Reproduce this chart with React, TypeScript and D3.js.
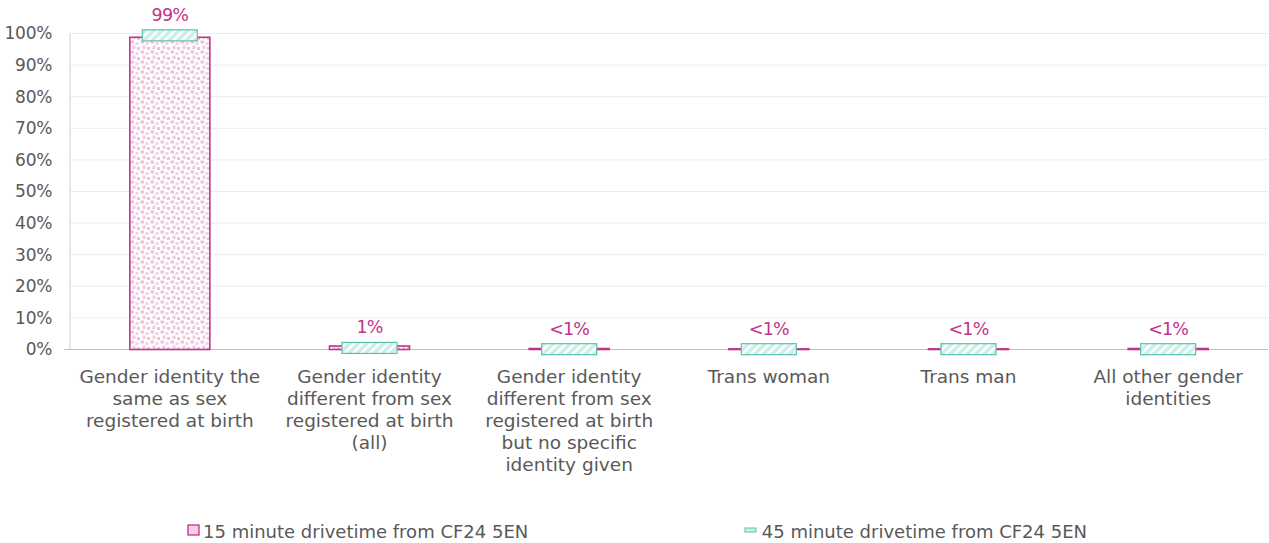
import React from "react";
import * as d3 from "d3";

const categories: string[][] = [
  ["Gender identity the", "same as sex", "registered at birth"],
  ["Gender identity", "different from sex", "registered at birth", "(all)"],
  ["Gender identity", "different from sex", "registered at birth", "but no specific", "identity given"],
  ["Trans woman"],
  ["Trans man"],
  ["All other gender", "identities"],
];
const series15 = [0.988, 0.011, 0.003, 0.002, 0.002, 0.003];
const series45 = [0.994, 0.005, 0.001, 0.001, 0.001, 0.001];
const dataLabels = ["99%", "1%", "<1%", "<1%", "<1%", "<1%"];
const yTicks = [0, 0.1, 0.2, 0.3, 0.4, 0.5, 0.6, 0.7, 0.8, 0.9, 1];
const legendLabels = ["15 minute drivetime from CF24 5EN", "45 minute drivetime from CF24 5EN"];

const W = 1269;
const H = 543;
const FONT = "'DejaVu Sans', sans-serif";
const TEXT = "#595959";
const PINK = "#c0338a";
const TEAL = "#5cbfae";

export default function App() {
  const x = d3.scaleBand<number>().domain(categories.map((_, i) => i)).range([70, 1268]).padding(0);
  const y = d3.scaleLinear().domain([0, 1]).range([349.5, 33.5]);
  const barW = 80;
  const mW = 55;
  const mH = 11;
  const fmt = d3.format(".0%");

  return (
    <svg width={W} height={H} style={{ position: "absolute", left: 0, top: 0 }} fontFamily={FONT}>
      <defs>
        <pattern id="dots" width="10" height="10" patternUnits="userSpaceOnUse">
          <rect width="10" height="10" fill="#fff" />
          <rect x="0.5" y="0.5" width="3.5" height="3" fill="#eec0db" />
          <rect x="5.5" y="2" width="3" height="3" fill="#f3d2e6" />
          <rect x="2.5" y="5.5" width="3" height="3.5" fill="#f1cae1" />
          <rect x="7" y="7" width="3" height="3" fill="#eec0db" />
        </pattern>
        <pattern id="hatch" width="6" height="6" patternUnits="userSpaceOnUse" patternTransform="rotate(45)">
          <rect width="6" height="6" fill="#c9efe8" />
          <rect x="0" y="0" width="2.5" height="6" fill="#ffffff" />
        </pattern>
      </defs>
      <rect width={W} height={H} fill="#fff" />
      {yTicks.map((t) => (
        <g key={t}>
          {t > 0 && <line x1={70} x2={1268} y1={y(t)} y2={y(t)} stroke="#ececec" strokeWidth={1} />}
          <text x={52} y={y(t)} dy="0.35em" textAnchor="end" fontSize={17} letterSpacing={-0.3} fill={TEXT}>
            {fmt(t)}
          </text>
        </g>
      ))}
      <line x1={70} x2={70} y1={y(1)} y2={y(0)} stroke="#d0d0d0" />
      <line x1={64} x2={70} y1={y(0)} y2={y(0)} stroke="#bfbfbf" />
      <line x1={70} x2={1268} y1={y(0)} y2={y(0)} stroke="#bfbfbf" strokeWidth={1.2} />
      {series15.map((v, i) => {
        const cx = x(i)! + x.bandwidth() / 2;
        return (
          <rect
            key={"b" + i}
            x={cx - barW / 2}
            y={y(v)}
            width={barW}
            height={Math.max(0.5, y(0) - y(v))}
            fill="url(#dots)"
            stroke={PINK}
            strokeWidth={1.6}
          />
        );
      })}
      {series45.map((v, i) => {
        const cx = x(i)! + x.bandwidth() / 2;
        return (
          <rect
            key={"m" + i}
            x={cx - mW / 2}
            y={y(v) - mH / 2}
            width={mW}
            height={mH}
            fill="url(#hatch)"
            stroke={TEAL}
            strokeWidth={1.2}
          />
        );
      })}
      {dataLabels.map((l, i) => {
        const cx = x(i)! + x.bandwidth() / 2;
        const top = Math.min(y(series45[i]) - mH / 2, y(series15[i]));
        return (
          <text key={"l" + i} x={cx} y={top - 9} textAnchor="middle" fontSize={17.5} letterSpacing={-0.8} fill={PINK}>
            {l}
          </text>
        );
      })}
      {categories.map((lines, i) => {
        const cx = x(i)! + x.bandwidth() / 2;
        return (
          <text key={"c" + i} textAnchor="middle" fontSize={18.5} fill={TEXT}>
            {lines.map((ln, j) => (
              <tspan key={j} x={cx} y={382.5 + j * 22}>
                {ln}
              </tspan>
            ))}
          </text>
        );
      })}
      <rect x={188} y={525} width={11} height={10} fill="#f3d0e5" stroke={PINK} strokeWidth={1.3} />
      <text x={203} y={538} fontSize={18} fill={TEXT}>
        {legendLabels[0]}
      </text>
      <rect x={745} y={528} width={11} height={4} fill="#c9efe8" stroke={TEAL} strokeWidth={1} />
      <text x={1087} y={538} fontSize={18} textAnchor="end" fill={TEXT}>
        {legendLabels[1]}
      </text>
    </svg>
  );
}
